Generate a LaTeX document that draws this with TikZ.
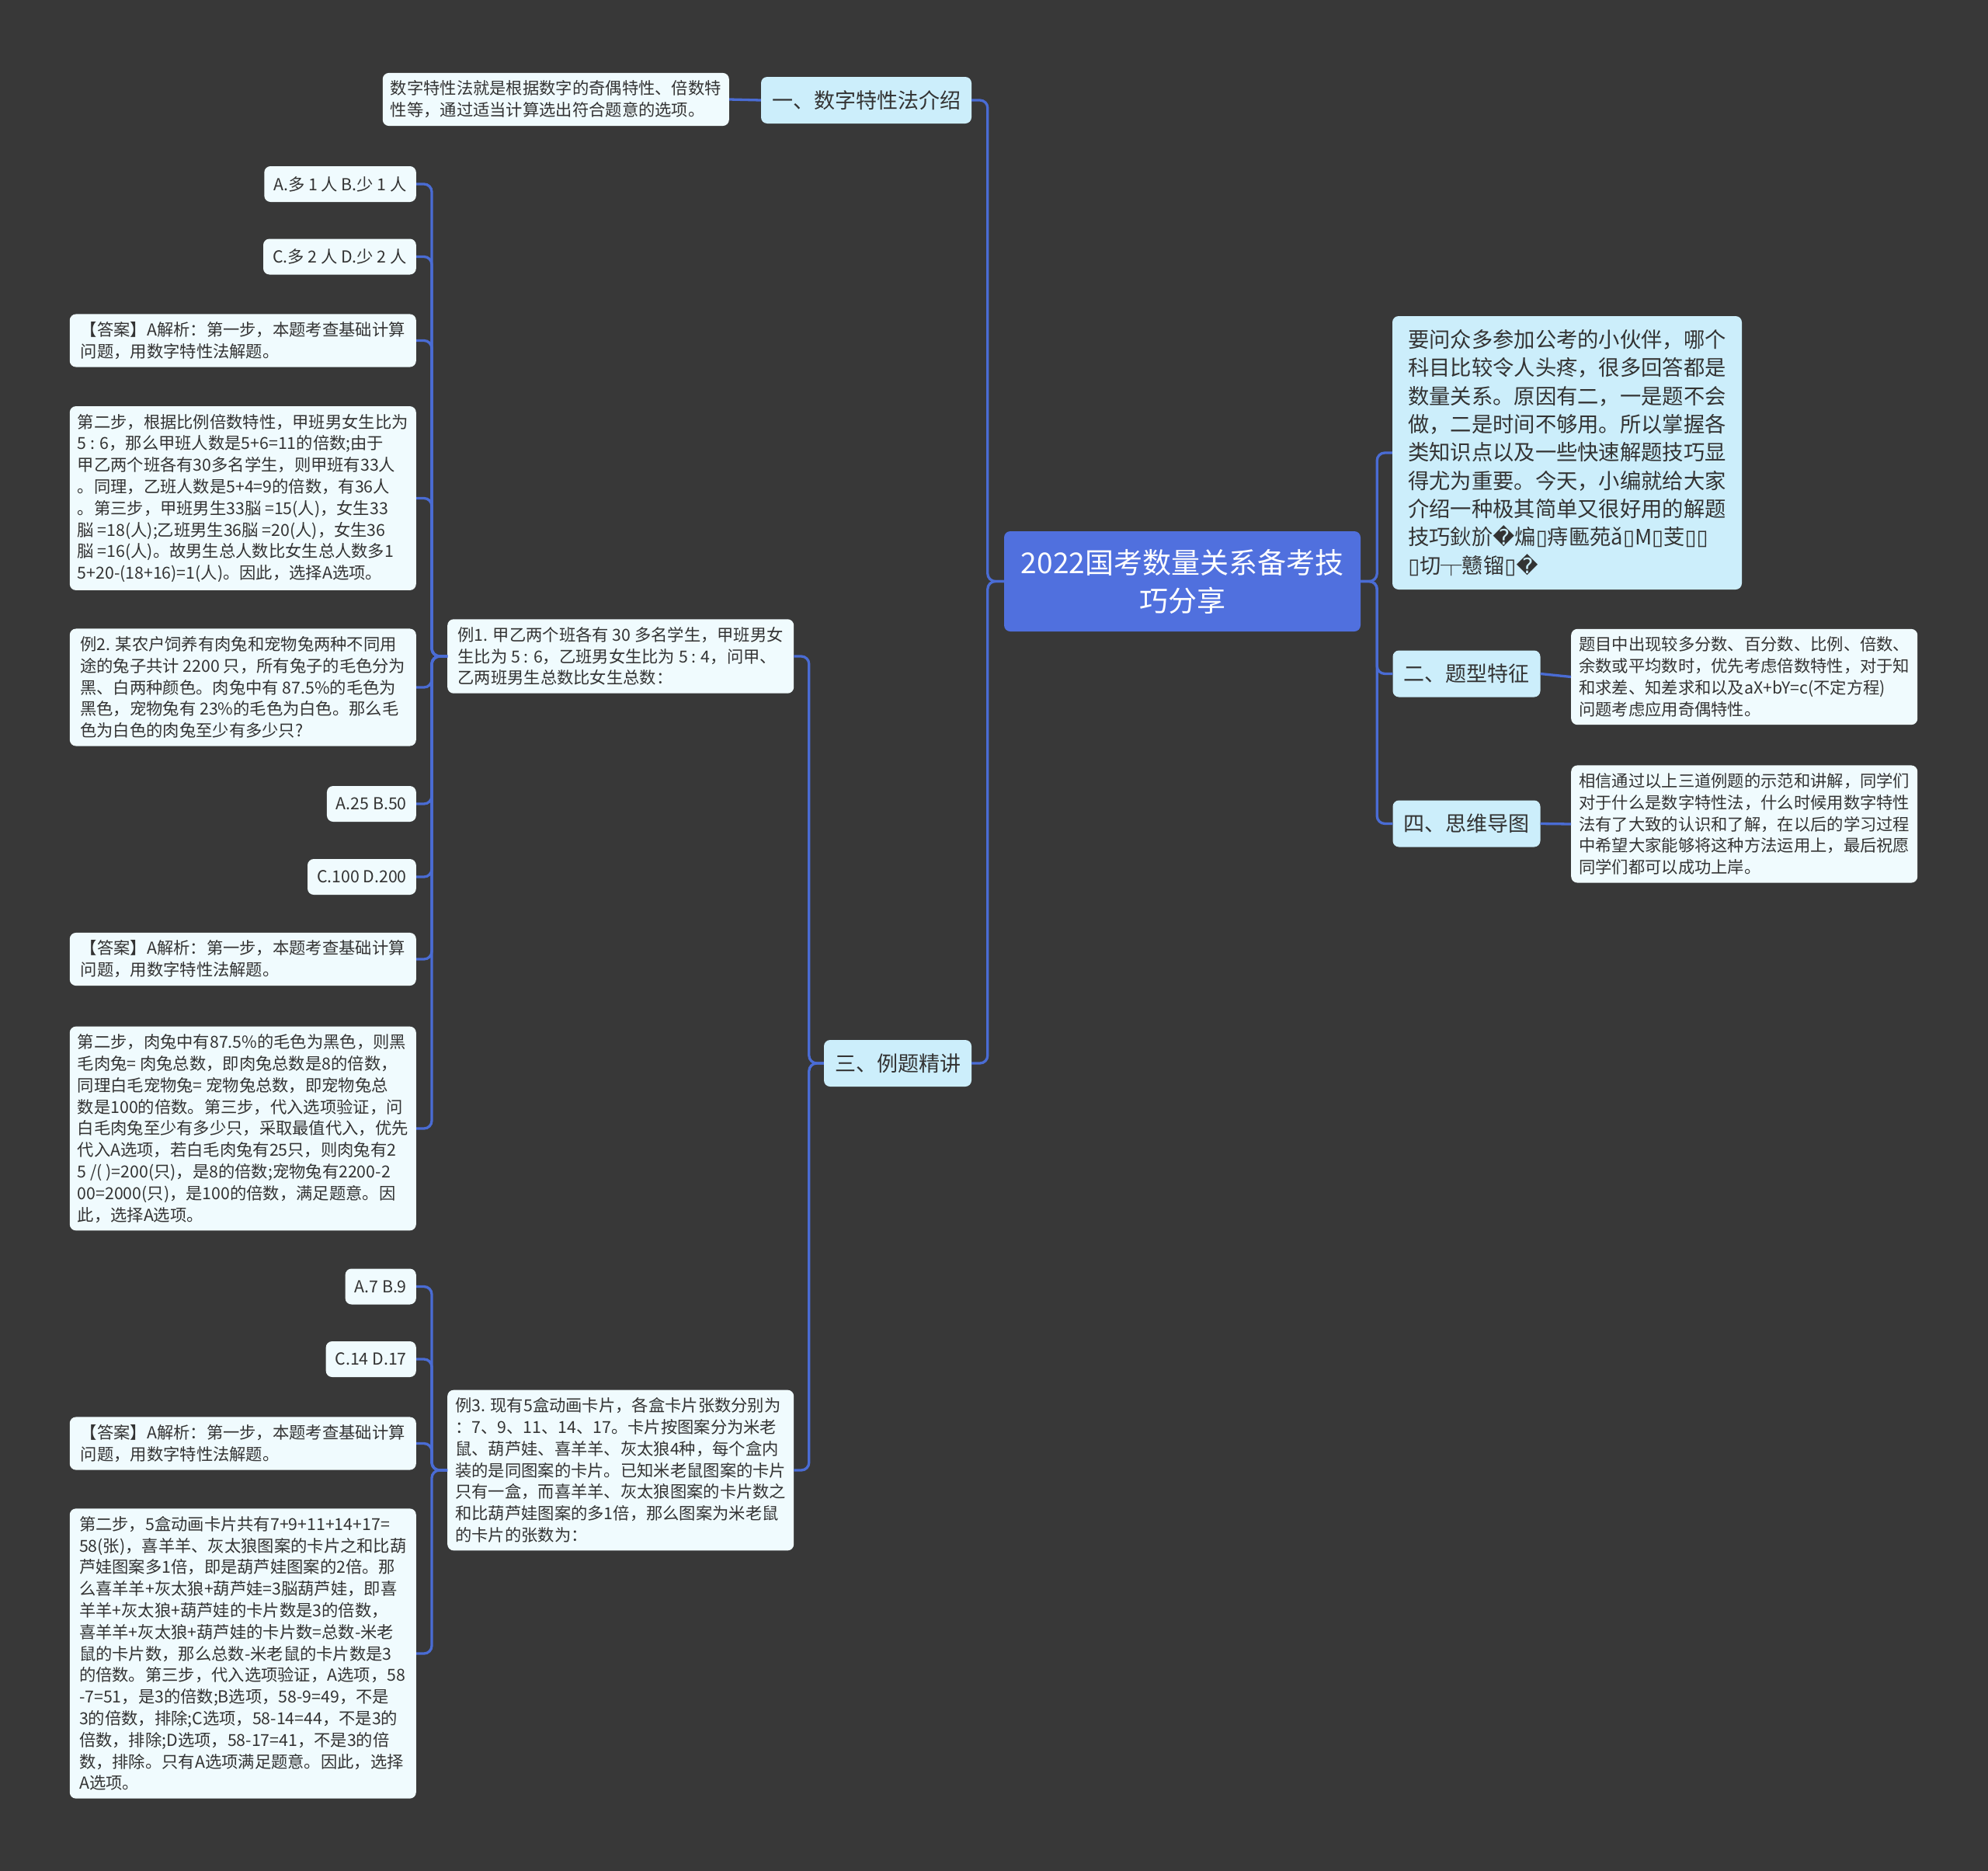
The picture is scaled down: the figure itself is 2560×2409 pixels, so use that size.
\documentclass[tikz,border=0pt]{standalone}
\usepackage{fontspec}
\setmainfont{Noto Sans CJK SC}
\newfontfamily\djv{DejaVu Sans}
\newcommand{\bad}{{\djv �}}
\newcommand{\nobox}{{\djv ▯}}
\definecolor{bgdark}{RGB}{56,56,56}
\definecolor{rootblue}{RGB}{80,112,222}
\definecolor{branchblue}{RGB}{204,238,251}
\definecolor{leafwhite}{RGB}{240,251,254}
\definecolor{linkblue}{RGB}{74,108,212}
\definecolor{inkgray}{RGB}{51,51,51}
\begin{document}
\begin{tikzpicture}[x=1pt,y=-1pt,
  link/.style={draw=linkblue,line width=3.3pt,rounded corners=10pt},
  rootbox/.style={fill=rootblue,rounded corners=8pt,text=white,align=center,
    minimum width=459pt,minimum height=129pt,font={\fontsize{37}{49}\selectfont}},
  branch/.style={fill=branchblue,rounded corners=8pt,text=inkgray,inner xsep=14pt,
    minimum height=60pt,font={\fontsize{27}{36}\selectfont}},
  leaf/.style={fill=leafwhite,rounded corners=8pt,text=inkgray,align=left,inner xsep=12pt,
    inner ysep=10pt,minimum height=46pt,font={\fontsize{21.3}{27.8}\selectfont}},
  wide/.style={leaf,inner xsep=9pt,minimum width=446pt}]
  \fill[bgdark] (0,0) rectangle (2560,2409);
  \useasboundingbox (0,0) rectangle (2560,2409);

  \node[rootbox] (root) at (1522.5,748.5) {2022国考数量关系备考技\\巧分享};

  \node[branch] (one) at (1115.5,129) {一、数字特性法介绍};
  \node[wide,anchor=east] (onedef) at (939,128)
    {数字特性法就是根据数字的奇偶特性、倍数特\\性等，通过适当计算选出符合题意的选项。};

  \node[branch,align=left,inner xsep=20pt,minimum width=450pt,minimum height=352pt,
    font={\fontsize{27.3}{36.3}\selectfont}] (intro) at (2018,583)
    {要问众多参加公考的小伙伴，哪个\\科目比较令人头疼，很多回答都是\\数量关系。原因有二，一是题不会\\
     做，二是时间不够用。所以掌握各\\类知识点以及一些快速解题技巧显\\得尤为重要。今天，小编就给大家\\
     介绍一种极其简单又很好用的解题\\技巧鈥斺\bad 煸\nobox 痔匭苑ǎ\nobox M\nobox 芰\nobox\nobox\\
     \nobox 切┬戆镏\nobox\bad};

  \node[branch] (two) at (1888.5,867.5) {二、题型特征};
  \node[wide,anchor=west] (twodef) at (2023,871.5)
    {题目中出现较多分数、百分数、比例、倍数、\\余数或平均数时，优先考虑倍数特性，对于知\\
     和求差、知差求和以及aX+bY=c(不定方程)\\问题考虑应用奇偶特性。};

  \node[branch] (four) at (1888.5,1060.5) {四、思维导图};
  \node[wide,anchor=west] (fourdef) at (2023,1061)
    {相信通过以上三道例题的示范和讲解，同学们\\对于什么是数字特性法，什么时候用数字特性\\
     法有了大致的认识和了解，在以后的学习过程\\中希望大家能够将这种方法运用上，最后祝愿\\同学们都可以成功上岸。};

  \node[branch] (three) at (1156,1369) {三、例题精讲};

  \node[wide,anchor=west] (ex1) at (576,845)
    {例1. 甲乙两个班各有 30 多名学生，甲班男女\\生比为 5 : 6，乙班男女生比为 5 : 4，问甲、\\乙两班男生总数比女生总数：};
  \node[wide,anchor=west] (ex3) at (576,1893)
    {例3. 现有5盒动画卡片，各盒卡片张数分别为\\：7、9、11、14、17。卡片按图案分为米老\\
     鼠、葫芦娃、喜羊羊、灰太狼4种，每个盒内\\装的是同图案的卡片。已知米老鼠图案的卡片\\
     只有一盒，而喜羊羊、灰太狼图案的卡片数之\\和比葫芦娃图案的多1倍，那么图案为米老鼠\\的卡片的张数为：};

  \node[leaf,anchor=east] (a1) at (536,237) {A.多 1 人 B.少 1 人};
  \node[leaf,anchor=east] (c1) at (536,330.5) {C.多 2 人 D.少 2 人};
  \node[wide,anchor=east] (ans1) at (536,438.5)
    {【答案】A解析：第一步，本题考查基础计算\\问题，用数字特性法解题。};
  \node[wide,anchor=east] (step1) at (536,641.5)
    {第二步，根据比例倍数特性，甲班男女生比为\\5 : 6，那么甲班人数是5+6=11的倍数;由于\\
     甲乙两个班各有30多名学生，则甲班有33人\\。同理，乙班人数是5+4=9的倍数，有36人\\
     。第三步，甲班男生33脳 =15(人)，女生33\\脳 =18(人);乙班男生36脳 =20(人)，女生36\\
     脳 =16(人)。故男生总人数比女生总人数多1\\5+20-(18+16)=1(人)。因此，选择A选项。};
  \node[wide,anchor=east] (ex2) at (536,885)
    {例2. 某农户饲养有肉兔和宠物兔两种不同用\\途的兔子共计 2200 只，所有兔子的毛色分为\\
     黑、白两种颜色。肉兔中有 87.5\%的毛色为\\黑色，宠物兔有 23\%的毛色为白色。那么毛\\色为白色的肉兔至少有多少只?};
  \node[leaf,anchor=east] (a2) at (536,1035) {A.25 B.50};
  \node[leaf,anchor=east] (c2) at (536,1129) {C.100 D.200};
  \node[wide,anchor=east] (ans2) at (536,1235)
    {【答案】A解析：第一步，本题考查基础计算\\问题，用数字特性法解题。};
  \node[wide,anchor=east] (step2) at (536,1453)
    {第二步，肉兔中有87.5\%的毛色为黑色，则黑\\毛肉兔= 肉兔总数，即肉兔总数是8的倍数，\\
     同理白毛宠物兔= 宠物兔总数，即宠物兔总\\数是100的倍数。第三步，代入选项验证，问\\
     白毛肉兔至少有多少只，采取最值代入，优先\\代入A选项，若白毛肉兔有25只，则肉兔有2\\
     5 /( )=200(只)，是8的倍数;宠物兔有2200-2\\00=2000(只)，是100的倍数，满足题意。因\\此，选择A选项。};

  \node[leaf,anchor=east] (a3) at (536,1656.5) {A.7 B.9};
  \node[leaf,anchor=east] (c3) at (536,1750) {C.14 D.17};
  \node[wide,anchor=east] (ans3) at (536,1858.5)
    {【答案】A解析：第一步，本题考查基础计算\\问题，用数字特性法解题。};
  \node[wide,anchor=east] (step3) at (536,2129)
    {第二步，5盒动画卡片共有7+9+11+14+17=\\58(张)，喜羊羊、灰太狼图案的卡片之和比葫\\
     芦娃图案多1倍，即是葫芦娃图案的2倍。那\\么喜羊羊+灰太狼+葫芦娃=3脳葫芦娃，即喜\\
     羊羊+灰太狼+葫芦娃的卡片数是3的倍数，\\喜羊羊+灰太狼+葫芦娃的卡片数=总数-米老\\
     鼠的卡片数，那么总数-米老鼠的卡片数是3\\的倍数。第三步，代入选项验证，A选项，58\\
     -7=51，是3的倍数;B选项，58-9=49，不是\\3的倍数，排除;C选项，58-14=44，不是3的\\
     倍数，排除;D选项，58-17=41，不是3的倍\\数，排除。只有A选项满足题意。因此，选择\\A选项。};

  \foreach \b in {one,three} \draw[link] (root.west) -- ++(-21,0) |- (\b.east);
  \foreach \b in {intro,two,four} \draw[link] (root.east) -- ++(21,0) |- (\b.west);
  \draw[link] (one.west) -- (onedef.east);
  \draw[link] (two.east) -- (twodef.west);
  \draw[link] (four.east) -- (fourdef.west);
  \foreach \b in {ex1,ex3} \draw[link] (three.west) -- ++(-19,0) |- (\b.east);
  \foreach \b in {a1,c1,ans1,step1,ex2,a2,c2,ans2,step2}
    \draw[link] (ex1.west) -- ++(-20,0) |- (\b.east);
  \foreach \b in {a3,c3,ans3,step3}
    \draw[link] (ex3.west) -- ++(-20,0) |- (\b.east);
\end{tikzpicture}
\end{document}
